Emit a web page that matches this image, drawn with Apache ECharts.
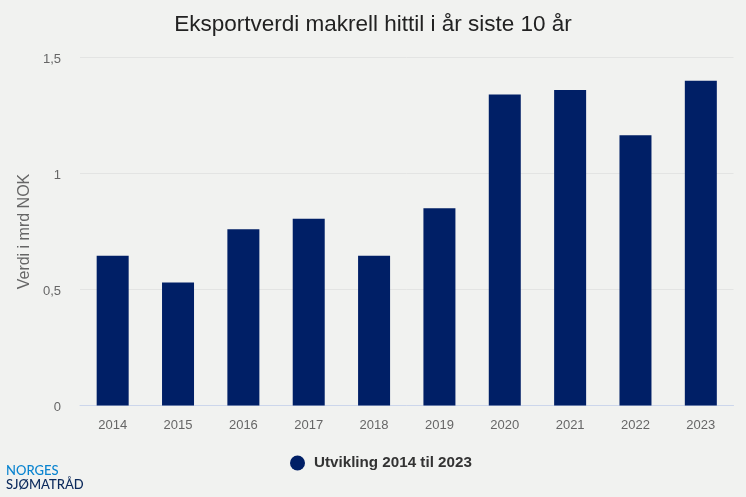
<!DOCTYPE html>
<html><head><meta charset="utf-8">
<style>html,body{margin:0;padding:0;background:#f1f2f0}#c{width:746px;height:497px}</style>
<script src="https://cdn.jsdelivr.net/npm/echarts@6/dist/echarts.min.js"></script>
</head><body><div id="c"></div>
<script>
const years = ['2014','2015','2016','2017','2018','2019','2020','2021','2022','2023'];
const values = [0.645,0.53,0.76,0.805,0.645,0.85,1.34,1.36,1.165,1.40];
const titleText = 'Eksportverdi makrell hittil i år siste 10 år';
const yName = 'Verdi i mrd NOK';
const seriesName = 'Utvikling 2014 til 2023';
const font = '"Liberation Sans", Arial, sans-serif';
const chart = echarts.init(document.getElementById('c'), null, {renderer:'canvas'});
chart.setOption({
  backgroundColor:'#f1f2f0',
  animation:false,
  title:{text:titleText,left:'center',top:8,textStyle:{fontFamily:font,fontSize:22.5,fontWeight:'normal',color:'#222222'}},
  grid:{left:80,right:12.5,top:57.5,bottom:91.5,containLabel:false},
  legend:{data:[{name:seriesName,icon:'circle'}],left:290,top:455.5,padding:0,itemWidth:15,itemHeight:15,
    textStyle:{fontFamily:font,fontSize:15.2,fontWeight:'bold',color:'#333333',padding:[0,0,0,4]}},
  xAxis:{type:'category',data:years,
    axisLine:{lineStyle:{color:'#ccd6eb',width:1}},axisTick:{show:false},
    axisLabel:{fontFamily:font,fontSize:13,color:'#666666',margin:13}},
  yAxis:{type:'value',min:0,max:1.5,interval:0.5,name:yName,nameLocation:'middle',nameGap:47,nameMoveOverlap:false,
    nameTextStyle:{fontFamily:font,fontSize:16,color:'#666666'},
    axisLine:{show:false},axisTick:{show:false},
    splitLine:{lineStyle:{color:'#e3e4e3',width:1}},
    axisLabel:{fontFamily:font,fontSize:13,color:'#666666',margin:19,verticalAlign:'top',lineHeight:4,
      formatter:v=>String(v).replace('.',',')}},
  series:[{name:seriesName,type:'bar',data:values,barWidth:32,itemStyle:{color:'#001f66'}}],
  graphic:[
    {type:'text',left:6,top:464,style:{text:'NORGES',font:'500 13px Lato, sans-serif',fill:'#0a84d0',letterSpacing:0.6}},
    {type:'text',left:6,top:478,style:{text:'SJØMATRÅD',font:'500 13px Lato, sans-serif',fill:'#0c2a5c',letterSpacing:0.8}}
  ]
});
</script></body></html>
